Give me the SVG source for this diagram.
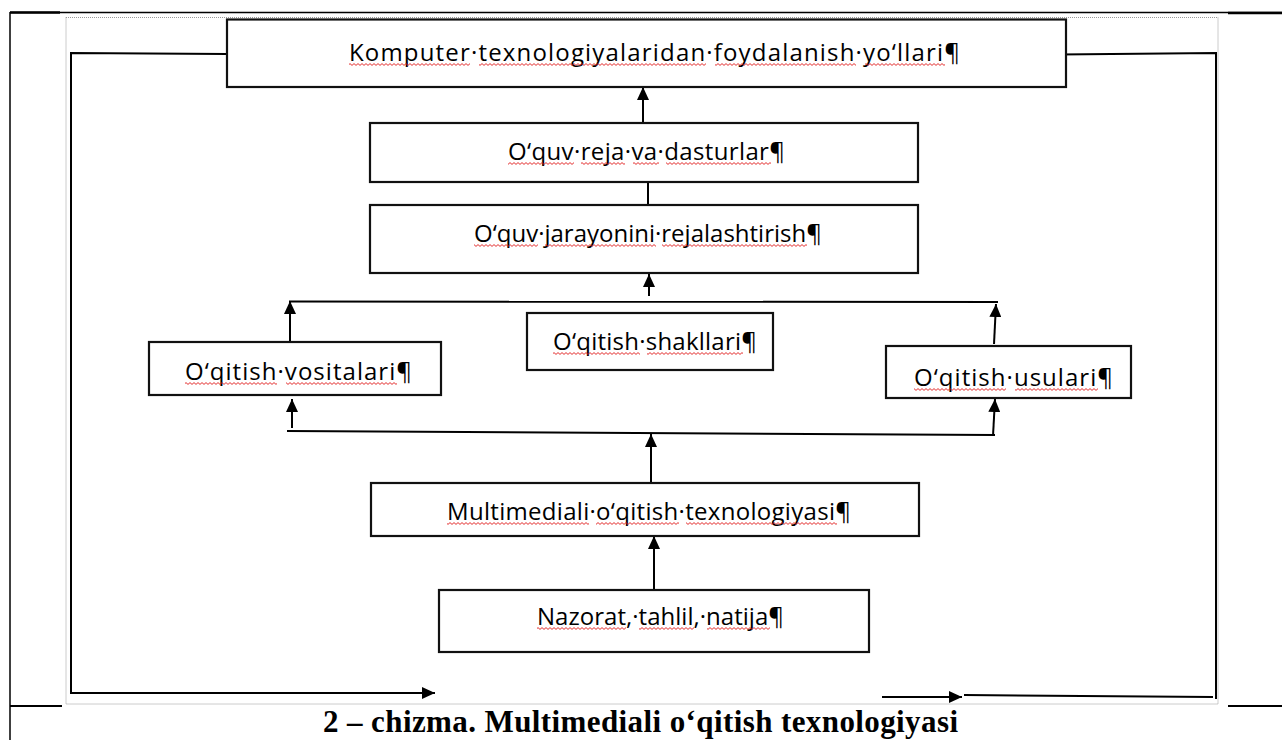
<svg xmlns="http://www.w3.org/2000/svg" width="1282" height="740" viewBox="0 0 1282 740">
<style>
.box{fill:#fff;stroke:#111;stroke-width:2.2}
.t{font-family:"Open Sans","Noto Sans",sans-serif;font-size:24px;fill:#000}
.sq{fill:url(#wave)}
.ln{fill:none;stroke:#000;stroke-width:2}
.tb{fill:none;stroke:#000;stroke-width:1.5}
.cap{font-family:"Liberation Serif",serif;font-weight:bold;font-size:31px;fill:#000}
</style>
<defs>
<marker id="ah" markerUnits="userSpaceOnUse" markerWidth="14" markerHeight="12" refX="13" refY="6" orient="auto">
<path d="M0,0 L13,6 L0,12 z" fill="#000"/>
</marker>
<pattern id="wave" patternUnits="userSpaceOnUse" x="0" y="2" width="4" height="3">
<path d="M0,2.4 L2,0.6 L4,2.4" fill="none" stroke="#e01818" stroke-width="0.9"/>
</pattern>
</defs>
<g id="table">
<line class="tb" x1="10" y1="12" x2="10" y2="740"/>
<line class="tb" x1="10" y1="12.5" x2="1282" y2="12.5"/>
<line x1="10" y1="12.5" x2="60" y2="12.5" stroke="#000" stroke-width="2.5"/>
<line x1="1228" y1="13" x2="1282" y2="13" stroke="#000" stroke-width="2.5"/>
<line x1="10" y1="706" x2="62" y2="706" stroke="#000" stroke-width="2"/>
<line x1="1228" y1="706" x2="1282" y2="706" stroke="#000" stroke-width="2"/>
<rect x="66" y="17.5" width="1152" height="686.5" fill="#fff" stroke="#999" stroke-width="1" stroke-dasharray="1,1"/>
</g>
<g id="connectors">
<polyline class="ln" points="227,54 71,53 71,693 435,693" marker-end="url(#ah)"/>
<polyline class="ln" points="1059,54.5 1216,53 1216,699"/>
<line class="ln" x1="1213" y1="697" x2="964" y2="695"/>
<line class="ln" x1="882" y1="697" x2="962" y2="697" marker-end="url(#ah)"/>
<line class="ln" x1="643" y1="123" x2="643" y2="87" marker-end="url(#ah)"/>
<line class="ln" x1="648" y1="182" x2="648" y2="205"/>
<line class="ln" x1="649" y1="296" x2="649" y2="274" marker-end="url(#ah)"/>
<line class="ln" x1="289" y1="301.5" x2="998" y2="302"/>
<line class="ln" x1="290" y1="342" x2="290" y2="301" marker-end="url(#ah)"/>
<line class="ln" x1="994" y1="344" x2="996" y2="304" marker-end="url(#ah)"/>
<line class="ln" x1="287" y1="431" x2="995" y2="435"/>
<line class="ln" x1="292" y1="428" x2="292" y2="399" marker-end="url(#ah)"/>
<line class="ln" x1="993" y1="436" x2="995" y2="399" marker-end="url(#ah)"/>
<line class="ln" x1="651" y1="482" x2="651" y2="434" marker-end="url(#ah)"/>
<line class="ln" x1="654" y1="590" x2="654" y2="536" marker-end="url(#ah)"/>
</g>
<g id="n1">
<rect class="box" x="227" y="19.5" width="839" height="67.5"/>
<text class="t" x="349" y="61" textLength="611"><tspan>Komputer</tspan>·<tspan>texnologiyalaridan</tspan>·<tspan>foydalanish</tspan>·<tspan>yo‘llari</tspan>¶</text>
<g transform="translate(0,61)">
<rect class="sq" x="349" y="2" width="121" height="3"/>
<rect class="sq" x="479" y="2" width="227" height="3"/>
<rect class="sq" x="715" y="2" width="141" height="3"/>
<rect class="sq" x="865" y="2" width="80" height="3"/>
</g>
</g>
<g id="n2">
<rect class="box" x="370" y="123" width="548" height="59"/>
<text class="t" x="508" y="160" textLength="277"><tspan>O‘quv</tspan>·<tspan>reja</tspan>·<tspan>va</tspan>·<tspan>dasturlar</tspan>¶</text>
<g transform="translate(0,160)">
<rect class="sq" x="508" y="2" width="66" height="3"/>
<rect class="sq" x="581" y="2" width="44" height="3"/>
<rect class="sq" x="633" y="2" width="26" height="3"/>
<rect class="sq" x="666" y="2" width="105" height="3"/>
</g>
</g>
<g id="n3">
<rect class="box" x="370" y="205" width="548" height="68"/>
<text class="t" x="474" y="242"><tspan>O‘quv</tspan>·<tspan>jarayonini</tspan>·<tspan>rejalashtirish</tspan>¶</text>
<g transform="translate(0,242)">
<rect class="sq" x="474" y="2" width="64" height="3"/>
<rect class="sq" x="545" y="2" width="111" height="3"/>
<rect class="sq" x="662" y="2" width="145" height="3"/>
</g>
</g>
<g id="n4">
<rect class="box" x="149" y="342" width="292" height="53"/>
<text class="t" x="185" y="380" textLength="227"><tspan>O‘qitish</tspan>·<tspan>vositalari</tspan>¶</text>
<g transform="translate(0,380)">
<rect class="sq" x="185" y="2" width="92" height="3"/>
<rect class="sq" x="286" y="2" width="111" height="3"/>
</g>
</g>
<g id="n5">
<rect class="box" x="527" y="313" width="246" height="57"/>
<text class="t" x="553" y="350" textLength="204"><tspan>O‘qitish</tspan>·<tspan>shakllari</tspan>¶</text>
<g transform="translate(0,350)">
<rect class="sq" x="553" y="2" width="87" height="3"/>
<rect class="sq" x="647" y="2" width="96" height="3"/>
</g>
</g>
<g id="n6">
<rect class="box" x="886" y="346" width="245" height="52"/>
<text class="t" x="914" y="386" textLength="199"><tspan>O‘qitish</tspan>·<tspan>usulari</tspan>¶</text>
<g transform="translate(0,386)">
<rect class="sq" x="914" y="2" width="92" height="3"/>
<rect class="sq" x="1015" y="2" width="83" height="3"/>
</g>
</g>
<g id="n7">
<rect class="box" x="371" y="483" width="548" height="53"/>
<text class="t" x="447" y="520" textLength="404"><tspan>Multimediali</tspan>·<tspan>o‘qitish</tspan>·<tspan>texnologiyasi</tspan>¶</text>
<g transform="translate(0,520)">
<rect class="sq" x="447" y="2" width="142" height="3"/>
<rect class="sq" x="596" y="2" width="83" height="3"/>
<rect class="sq" x="686" y="2" width="151" height="3"/>
</g>
</g>
<g id="n8">
<rect class="box" x="439" y="590" width="430" height="62"/>
<text class="t" x="537" y="625" textLength="247"><tspan>Nazorat</tspan>,·<tspan>tahlil</tspan>,·<tspan>natija</tspan>¶</text>
<g transform="translate(0,625)">
<rect class="sq" x="537" y="2" width="89" height="3"/>
<rect class="sq" x="639" y="2" width="55" height="3"/>
<rect class="sq" x="707" y="2" width="63" height="3"/>
</g>
</g>
<g id="caption">
<text class="cap" x="323" y="732" textLength="635">2 – chizma. Multimediali o‘qitish texnologiyasi</text>
</g>
</svg>
